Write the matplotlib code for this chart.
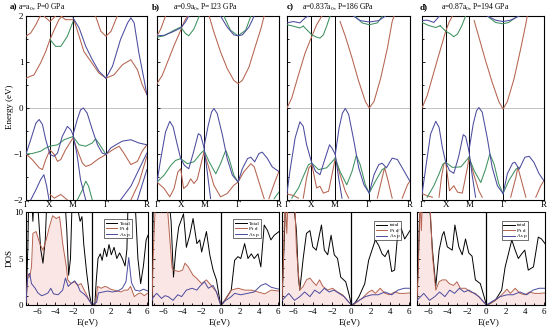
import matplotlib.pyplot as plt
import numpy as np

plt.rcParams['font.family'] = ['Liberation Serif', 'DejaVu Serif']
plt.rcParams['mathtext.fontset'] = 'stix'

BLUE = '#4b4b9e'
BROWN = '#b5634f'
GREEN = '#3e9160'

KPTS = [0, 0.5, 1.0, 1.707, 2.573]
KLAB = ['Γ', 'X', 'M', 'Γ', 'R']

LETTERS = ['a)', 'b)', 'c)', 'd)']
TITLES = [r'a=$\mathrm{a}_0$, P=0 GPa', r'a=0.9$\mathrm{a}_0$, P=123 GPa',
          r'a=0.837$\mathrm{a}_0$, P=186 GPa', r'a=0.87$\mathrm{a}_0$, P=194 GPa']
TOTAL_NAMES = ['Total', 'Total', 'total', 'total']

# ---- band structures: each band is a list of (k, E) points ----
bands_a_blue = [
    [(0, -1.0), (0.1, -0.69), (0.21, -0.33), (0.28, -0.25), (0.35, -0.36), (0.42, -0.69), (0.51, -1.01),
     (0.6, -1.05), (0.67, -0.98), (0.77, -0.62), (0.88, -0.40), (0.95, -0.47), (1.0, -0.58), (1.08, -0.98),
     (1.16, -1.56), (1.27, -2.0)],
    [(1.0, -0.58), (1.09, -0.25), (1.16, -0.04), (1.22, 0.0), (1.30, -0.11), (1.41, -0.47), (1.52, -0.80),
     (1.62, -0.98), (1.70, -1.01)],
    [(1.70, -1.01), (1.80, -0.87), (1.91, -0.80), (2.05, -0.72), (2.23, -0.69), (2.40, -0.76), (2.57, -0.80)],
    [(0.1, -2.0), (0.21, -1.78), (0.31, -1.56), (0.38, -1.45), (0.44, -1.70), (0.49, -2.0)],
    [(2.01, -2.0), (2.23, -1.70), (2.40, -1.34), (2.57, -0.98)],
    [(2.37, -2.0), (2.57, -1.34)],
    [(1.0, 1.96), (1.13, 1.74), (1.27, 1.34), (1.41, 1.05), (1.55, 0.80), (1.70, 0.65)],
    [(1.70, 0.65), (1.84, 0.91), (2.01, 1.49), (2.16, 1.85), (2.23, 1.96), (2.30, 1.85), (2.40, 1.20),
     (2.51, 0.62), (2.57, 0.29)],
]
bands_a_brown = [
    [(0, 0.65), (0.17, 0.72), (0.31, 0.98), (0.42, 1.23), (0.51, 1.49), (0.6, 1.70), (0.70, 1.92), (0.77, 2.0)],
    [(0, 1.56), (0.1, 1.63), (0.21, 1.81), (0.28, 1.96), (0.31, 2.0)],
    [(0.38, 2.0), (0.51, 1.88), (0.63, 2.0)],
    [(0.74, 2.0), (0.84, 1.92), (1.0, 1.92)],
    [(1.03, 1.88), (1.13, 1.56), (1.23, 1.23), (1.38, 1.01), (1.55, 0.76), (1.70, 0.65)],
    [(1.70, 0.65), (1.87, 0.72), (2.05, 0.94), (2.23, 1.05), (2.37, 0.83), (2.47, 0.51), (2.57, 0.29)],
    [(1.48, 2.0), (1.59, 1.67), (1.70, 1.56), (1.81, 1.67), (1.94, 2.0)],
    [(0, -1.0), (0.13, -1.12), (0.28, -1.30), (0.35, -1.34), (0.42, -1.12), (0.51, -0.91), (0.6, -1.01),
     (0.67, -1.16), (0.74, -1.12), (0.84, -0.91), (1.0, -0.65)],
    [(1.0, -0.65), (1.09, -0.91), (1.2, -1.20), (1.27, -1.27), (1.38, -1.23), (1.52, -1.12), (1.70, -1.01)],
    [(1.70, -1.01), (1.84, -0.91), (1.98, -0.83), (2.08, -0.98), (2.23, -1.23), (2.37, -1.16),
     (2.47, -0.94), (2.57, -0.80)],
    [(0.51, -1.88), (0.6, -1.96), (0.74, -1.88), (0.88, -2.0)],
    [(2.23, -2.0), (2.40, -1.63), (2.57, -1.05)],
]
bands_a_green = [
    [(0.51, 1.49), (0.63, 1.34), (0.74, 1.34), (0.88, 1.56), (1.0, 1.88)],
    [(0, -1.0), (0.13, -0.99), (0.31, -0.94), (0.42, -0.87), (0.51, -0.83), (0.67, -0.80), (0.81, -0.69),
     (1.0, -0.62)],
    [(1.0, -0.62), (1.13, -0.80), (1.27, -0.83), (1.41, -0.76), (1.48, -0.67), (1.57, -0.80), (1.70, -1.01)],
    [(1.09, -2.0), (1.2, -1.78), (1.27, -1.59), (1.33, -1.70), (1.41, -2.0)],
]

bands_b_blue = [
    [(0, 1.57), (0.15, 1.58), (0.32, 1.65), (0.5, 1.74), (0.6, 1.87), (0.67, 2.0)],
    [(1.34, 2.0), (1.48, 1.76), (1.62, 1.59), (1.71, 1.57), (1.80, 1.59), (1.94, 1.76), (2.05, 2.0)],
    [(0, -1.61), (0.08, -1.10), (0.18, -0.52), (0.27, -0.29), (0.34, -0.41), (0.43, -0.81), (0.5, -1.10),
     (0.58, -1.25), (0.67, -1.32), (0.77, -0.96), (0.87, -0.56), (0.92, -0.59), (0.99, -0.85), (1.06, -1.39),
     (1.13, -1.97)],
    [(0.99, -0.85), (1.08, -0.38), (1.15, -0.09), (1.20, -0.01), (1.27, -0.12), (1.38, -0.59), (1.48, -1.10),
     (1.59, -1.46), (1.71, -1.61)],
    [(1.71, -1.61), (1.80, -1.32), (1.91, -1.10), (1.98, -1.07), (2.06, -1.17), (2.15, -0.99), (2.22, -0.96),
     (2.33, -1.10), (2.43, -1.28), (2.57, -1.38)],
]
bands_b_brown = [
    [(0, 0.53), (0.11, 0.71), (0.25, 1.07), (0.36, 1.36), (0.5, 1.69), (0.57, 1.87), (0.64, 2.0)],
    [(0, 1.57), (0.08, 1.72), (0.18, 2.0)],
    [(1.10, 2.0), (1.20, 1.65), (1.34, 1.22), (1.48, 0.86), (1.62, 0.60), (1.71, 0.53), (1.80, 0.60),
     (1.94, 0.89), (2.08, 1.36), (2.19, 1.72), (2.26, 2.0)],
    [(0, -1.61), (0.15, -1.75), (0.27, -1.93), (0.36, -1.75), (0.44, -1.39), (0.5, -1.32), (0.56, -1.75),
     (0.64, -1.68), (0.71, -1.54), (0.78, -1.64), (0.85, -1.55), (0.92, -1.25), (0.99, -0.96)],
    [(0.99, -0.96), (1.10, -1.32), (1.20, -1.68), (1.34, -1.93), (1.48, -1.86), (1.62, -1.68), (1.71, -1.61)],
    [(1.71, -1.61), (1.83, -1.39), (1.98, -1.21), (2.05, -1.28), (2.15, -1.61), (2.26, -1.97)],
    [(2.36, -1.97), (2.47, -1.65), (2.57, -1.38)],
]
bands_b_green = [
    [(0, 1.54), (0.15, 1.57), (0.36, 1.69), (0.5, 1.76), (0.6, 1.62), (0.67, 1.57), (0.78, 1.72), (0.89, 2.0)],
    [(1.41, 2.0), (1.55, 1.69), (1.71, 1.57), (1.87, 1.69), (1.98, 2.0)],
    [(0, -1.61), (0.15, -1.46), (0.29, -1.25), (0.39, -1.14), (0.5, -1.10), (0.64, -1.21), (0.78, -1.17),
     (0.92, -0.99), (0.99, -0.92)],
    [(0.99, -0.92), (1.10, -1.17), (1.24, -1.43), (1.34, -1.21), (1.45, -0.92), (1.52, -1.10), (1.62, -1.46),
     (1.71, -1.61)],
    [(2.47, -1.97), (2.57, -1.83)],
]

bands_c_blue = [
    [(0, 1.85), (0.13, 1.88), (0.27, 1.85), (0.38, 1.96), (0.45, 2.0)],
    [(1.39, 2.0), (1.53, 1.90), (1.72, 1.87), (1.92, 1.90), (2.06, 2.0)],
    [(0, -1.85), (0.06, -1.38), (0.17, -0.65), (0.27, -0.30), (0.34, -0.40), (0.41, -0.80), (0.52, -1.20),
     (0.60, -1.38), (0.69, -1.45), (0.79, -1.12), (0.89, -0.80), (0.94, -0.87), (1.01, -1.01), (1.08, -1.52),
     (1.15, -1.96)],
    [(1.01, -1.01), (1.09, -0.43), (1.16, -0.11), (1.22, -0.01), (1.29, -0.14), (1.40, -0.72), (1.50, -1.30),
     (1.61, -1.67), (1.72, -1.85)],
    [(1.72, -1.85), (1.82, -1.45), (1.92, -1.23), (1.99, -1.20), (2.08, -1.30), (2.20, -1.09), (2.31, -1.12),
     (2.41, -1.30), (2.57, -1.59)],
]
bands_c_brown = [
    [(0, 0.0), (0.10, 0.22), (0.24, 0.72), (0.38, 1.20), (0.52, 1.56), (0.62, 1.81), (0.73, 2.0)],
    [(1.11, 1.88), (1.22, 1.56), (1.36, 1.09), (1.50, 0.58), (1.64, 0.14), (1.72, 0.0), (1.82, 0.14),
     (1.96, 0.65), (2.10, 1.30), (2.20, 1.88), (2.24, 2.0)],
    [(0.34, -1.96), (0.41, -1.52), (0.46, -1.30), (0.52, -1.23)],
    [(0.52, -1.23), (0.62, -1.74), (0.69, -1.70), (0.76, -1.85), (0.87, -1.81), (0.97, -1.30), (1.01, -1.09)],
    [(1.01, -1.09), (1.11, -1.45), (1.22, -1.81), (1.29, -1.96)],
    [(1.89, -1.96), (1.99, -1.52), (2.04, -1.30), (2.10, -1.52), (2.20, -1.96)],
    [(2.41, -1.96), (2.52, -1.67), (2.57, -1.59)],
    [(0, -1.87), (0.13, -1.90), (0.24, -1.96)],
]
bands_c_green = [
    [(0.34, 1.78), (0.52, 1.59), (0.62, 1.54), (0.69, 1.52), (0.76, 1.59), (0.83, 1.78), (0.90, 2.0)],
    [(0, 1.81), (0.13, 1.78), (0.27, 1.74), (0.34, 1.78)],
    [(1.43, 1.99), (1.57, 1.85), (1.72, 1.81), (1.89, 1.85), (1.99, 1.99)],
    [(0.10, -1.96), (0.24, -1.74), (0.34, -1.49), (0.45, -1.23), (0.52, -1.20), (0.66, -1.34), (0.83, -1.30),
     (1.01, -1.09)],
    [(1.01, -1.09), (1.11, -1.38), (1.25, -1.67), (1.36, -1.38), (1.45, -1.03), (1.53, -1.23), (1.64, -1.67),
     (1.72, -1.85)],
    [(1.72, -1.85), (1.85, -1.59), (1.99, -1.34), (2.06, -1.30)],
]

bands_d_blue = [
    [(0, 1.90), (0.11, 1.91), (0.25, 1.86), (0.36, 1.99)],
    [(1.38, 2.0), (1.55, 1.91), (1.71, 1.88), (1.87, 1.91), (2.05, 2.0)],
    [(0, -1.88), (0.08, -1.29), (0.18, -0.57), (0.29, -0.29), (0.36, -0.42), (0.43, -0.86), (0.5, -1.18),
     (0.58, -1.36), (0.67, -1.42), (0.77, -1.07), (0.87, -0.58), (0.92, -0.62), (0.99, -0.93), (1.06, -1.47),
     (1.13, -1.94)],
    [(0.99, -0.93), (1.08, -0.35), (1.15, -0.06), (1.20, 0.01), (1.27, -0.09), (1.38, -0.67), (1.48, -1.29),
     (1.59, -1.69), (1.71, -1.86)],
    [(1.71, -1.86), (1.80, -1.43), (1.91, -1.20), (1.96, -1.18), (2.05, -1.33), (2.17, -1.07), (2.26, -1.05),
     (2.36, -1.18), (2.47, -1.43), (2.57, -1.58)],
]
bands_d_brown = [
    [(0, 0.0), (0.11, 0.27), (0.25, 0.78), (0.39, 1.28), (0.5, 1.67), (0.57, 1.86), (0.64, 2.0)],
    [(1.10, 1.90), (1.20, 1.54), (1.34, 1.03), (1.48, 0.56), (1.62, 0.14), (1.71, -0.02), (1.80, 0.14),
     (1.94, 0.63), (2.08, 1.28), (2.19, 1.83), (2.22, 2.0)],
    [(0.36, -1.94), (0.41, -1.51), (0.46, -1.22), (0.5, -1.18)],
    [(0.5, -1.18), (0.58, -1.80), (0.67, -1.69), (0.75, -1.83), (0.85, -1.85), (0.96, -1.29), (0.99, -1.07)],
    [(0.99, -1.07), (1.10, -1.47), (1.20, -1.80), (1.27, -1.94)],
    [(1.87, -1.94), (1.98, -1.51), (2.02, -1.29), (2.08, -1.51), (2.19, -1.94)],
    [(2.40, -1.94), (2.50, -1.70), (2.57, -1.58)],
    [(0, -1.86), (0.11, -1.91), (0.22, -1.94)],
]
bands_d_green = [
    [(0.38, 1.79), (0.5, 1.67), (0.60, 1.61), (0.67, 1.55), (0.75, 1.61), (0.84, 1.79), (0.92, 2.0)],
    [(0, 1.86), (0.15, 1.79), (0.29, 1.75), (0.39, 1.79)],
    [(1.41, 1.97), (1.55, 1.86), (1.71, 1.83), (1.83, 1.86), (1.98, 1.97)],
    [(0.11, -1.94), (0.25, -1.69), (0.36, -1.43), (0.44, -1.22), (0.5, -1.18), (0.64, -1.29), (0.82, -1.28),
     (0.99, -1.07)],
    [(0.99, -1.07), (1.10, -1.36), (1.24, -1.62), (1.34, -1.33), (1.43, -1.0), (1.52, -1.22), (1.62, -1.65),
     (1.71, -1.86)],
    [(1.71, -1.86), (1.83, -1.58), (1.98, -1.33), (2.05, -1.29)],
]

# ---- density of states: (E, DOS) points ----
dos_a_total = [(-7.2, 0.3), (-7.0, 6), (-6.9, 12), (-6.6, 12), (-6.45, 9.0), (-6.3, 12), (-6.0, 12), (-5.8, 9),
               (-5.6, 6), (-5.35, 4.5), (-5.1, 7), (-4.9, 12), (-4.5, 12), (-4.0, 12), (-3.5, 12), (-3.0, 12),
               (-2.75, 8), (-2.55, 3.2), (-2.35, 5), (-2.15, 12), (-1.9, 12), (-1.6, 10.5), (-1.3, 9),
               (-1.1, 9.5), (-0.9, 6.5), (-0.6, 3.6), (-0.3, 1.2), (-0.05, 0), (0.3, 0), (0.45, 2.5),
               (0.65, 5.0), (0.9, 5.5), (1.1, 4.8), (1.35, 6.1), (1.6, 5.2), (1.85, 6.5), (2.1, 5.4),
               (2.4, 6.2), (2.7, 5.0), (3.0, 5.6), (3.3, 5.0), (3.6, 4.2), (3.8, 6), (3.95, 12), (4.3, 12),
               (4.7, 11), (5.0, 5), (5.3, 2.3), (5.6, 4.2), (5.9, 7), (6.1, 7.5)]
dos_a_ptd = [(-7.2, 0.3), (-7.0, 3.4), (-6.8, 3.0), (-6.6, 4.1), (-6.45, 7.7), (-6.1, 7.9), (-5.7, 6.6),
             (-5.35, 5.9), (-5.0, 7.0), (-4.65, 8.4), (-4.3, 9.6), (-3.9, 9.3), (-3.55, 9.5), (-3.4, 8.4),
             (-3.2, 6.6), (-2.8, 4.1), (-2.65, 2.7), (-2.3, 2.3), (-1.9, 2.5), (-1.55, 2.1), (-1.2, 2.3),
             (-0.85, 1.6), (-0.3, 0.5), (0, 0), (0.4, 0.2), (0.6, 2.0), (1.0, 1.8), (1.4, 2.0), (1.7, 1.9),
             (2.0, 1.7), (2.4, 1.6), (2.8, 1.5), (3.15, 1.4), (3.5, 1.6), (3.9, 1.6), (4.2, 2.0), (4.6, 0.9),
             (5.0, 1.2), (5.3, 1.3), (5.7, 1.0), (6.1, 1.3)]
dos_a_asp = [(-7.2, 0.3), (-7.0, 3.1), (-6.8, 3.4), (-6.6, 2.3), (-6.2, 1.8), (-5.9, 1.3), (-5.5, 1.0),
             (-5.2, 1.1), (-4.8, 1.3), (-4.5, 1.8), (-4.2, 1.2), (-3.7, 1.1), (-3.2, 1.6), (-2.9, 2.9),
             (-2.6, 2.0), (-2.3, 2.3), (-1.9, 2.6), (-1.6, 2.2), (-1.3, 1.5), (-0.9, 1.2), (-0.6, 0.9),
             (-0.1, 0.2), (0, 0), (0.5, 0.3), (0.7, 1.3), (1.2, 1.4), (1.7, 1.5), (2.2, 1.4), (2.8, 1.5),
             (3.3, 1.8), (3.7, 2.5), (4.0, 5.1), (4.3, 2.4), (4.7, 1.6), (5.2, 1.5), (5.6, 1.7), (6.1, 1.5)]

dos_b_total = [(-7.2, 0.5), (-7.05, 12), (-6.5, 12), (-6.0, 12), (-5.5, 12), (-5.2, 9), (-4.95, 3.0),
               (-4.7, 6), (-4.4, 8.4), (-3.9, 9.8), (-3.6, 6.2), (-3.25, 7.5), (-2.9, 9.3), (-2.5, 6.6),
               (-2.2, 7.0), (-2.0, 5.7), (-1.5, 7.9), (-1.15, 5.4), (-0.8, 3.75), (-0.45, 2.7), (-0.1, 0.5),
               (0, 0), (0.25, 0.2), (0.6, 0.8), (1.1, 1.6), (1.45, 4.8), (1.8, 5.2), (2.1, 5.0), (2.5, 6.6),
               (2.85, 5.0), (3.2, 5.5), (3.5, 5.0), (3.9, 5.5), (4.2, 4.1), (4.55, 8.6), (4.9, 8.0),
               (5.25, 7.0), (5.6, 7.5), (6.1, 7.9)]
dos_b_ptd = [(-7.2, 0.5), (-7.05, 6), (-6.8, 12), (-6.5, 12), (-6.2, 10), (-6.0, 12), (-5.7, 12), (-5.4, 8),
             (-5.1, 4), (-4.95, 3.75), (-4.4, 3.6), (-4.0, 3.75), (-3.75, 4.5), (-3.4, 4.1), (-2.9, 3.2),
             (-2.55, 2.9), (-2.0, 2.3), (-1.5, 2.7), (-1.0, 2.1), (-0.45, 1.4), (0, 0), (0.4, 0.5), (0.8, 1.1),
             (1.1, 1.6), (1.8, 1.8), (2.5, 1.6), (3.2, 1.6), (3.9, 1.4), (4.6, 1.2), (5.3, 1.6), (6.1, 1.5)]
dos_b_asp = [(-7.2, 0.5), (-7.05, 0.9), (-6.7, 1.25), (-6.2, 0.7), (-5.85, 1.0), (-5.5, 0.9), (-5.0, 0.5),
             (-4.5, 1.1), (-4.1, 0.9), (-3.6, 1.6), (-3.0, 1.8), (-2.5, 1.6), (-2.2, 2.0), (-1.7, 2.5),
             (-1.3, 1.8), (-0.8, 2.1), (-0.45, 1.4), (0, 0), (0.4, 0.4), (1.1, 0.9), (1.45, 1.25), (2.1, 1.1),
             (2.8, 1.25), (3.5, 1.4), (4.2, 2.1), (4.7, 2.3), (5.3, 1.9), (6.1, 1.7)]

dos_c_total = [(-7.2, 0.5), (-7.0, 6), (-6.8, 12), (-6.2, 12), (-5.9, 10), (-5.7, 8), (-5.5, 3), (-5.35, 1.6),
               (-5.0, 5), (-4.66, 7.7), (-4.3, 8.0), (-4.0, 6.25), (-3.64, 5.9), (-3.1, 8.6), (-2.8, 5.9),
               (-2.45, 5.4), (-2.1, 7.5), (-1.77, 5.4), (-1.43, 5.0), (-1.1, 3.0), (-0.58, 2.5), (-0.2, 1.0),
               (0, 0), (0.3, 0.1), (0.8, 0.9), (1.4, 2.3), (1.8, 4.8), (2.15, 5.9), (2.5, 7.0), (2.85, 6.4),
               (3.2, 5.5), (3.5, 5.2), (3.85, 5.9), (4.2, 3.6), (4.5, 3.75), (4.85, 8.0), (5.2, 8.2),
               (5.55, 7.1), (6.1, 8.0)]
dos_c_ptd = [(-7.2, 0.5), (-7.05, 4.8), (-6.9, 12), (-6.7, 7.7), (-6.55, 12), (-6.2, 12), (-5.9, 12),
             (-5.7, 6.0), (-5.35, 1.6), (-5.0, 2.0), (-4.66, 2.7), (-4.3, 2.9), (-4.0, 2.5), (-3.64, 2.1),
             (-3.3, 2.7), (-2.95, 2.0), (-2.45, 1.6), (-1.95, 1.8), (-1.43, 1.4), (-0.9, 1.1), (-0.4, 0.5),
             (0, 0), (0.45, 0.2), (1.1, 0.7), (1.8, 1.4), (2.15, 1.6), (2.5, 1.25), (3.0, 1.8), (3.5, 1.25),
             (4.0, 1.1), (4.5, 1.4), (5.0, 1.25), (5.5, 1.25), (6.1, 1.3)]
dos_c_asp = [(-7.2, 0.5), (-7.0, 0.7), (-6.5, 1.25), (-5.9, 0.5), (-5.35, 0.9), (-4.85, 1.4), (-4.3, 0.9),
             (-3.8, 1.6), (-3.3, 1.25), (-2.8, 1.8), (-2.3, 1.4), (-1.8, 1.6), (-1.27, 1.25), (-0.75, 0.9),
             (0, 0), (0.8, 0.5), (1.45, 0.9), (2.15, 1.1), (2.8, 1.1), (3.5, 1.4), (4.2, 1.1), (4.85, 1.6),
             (5.5, 1.8), (6.1, 1.8)]

dos_d_total = [(-7.2, 0.5), (-7.0, 7), (-6.85, 12), (-6.2, 12), (-5.9, 11), (-5.6, 6.0), (-5.25, 2.0),
               (-4.9, 5.9), (-4.57, 7.5), (-4.4, 7.9), (-4.05, 6.25), (-3.54, 5.9), (-3.26, 8.6), (-2.85, 6.25),
               (-2.5, 5.4), (-2.16, 7.1), (-1.82, 5.6), (-1.48, 5.25), (-1.13, 2.7), (-0.62, 2.3), (-0.2, 0.8),
               (0, 0), (0.3, 0.1), (0.93, 0.5), (1.6, 1.6), (1.96, 4.1), (2.3, 5.5), (2.65, 7.0), (3.0, 5.9),
               (3.33, 5.0), (3.68, 5.5), (4.0, 5.9), (4.36, 3.75), (4.9, 4.1), (5.4, 7.3), (5.74, 7.1),
               (6.1, 6.6)]
dos_d_ptd = [(-7.2, 0.5), (-7.05, 4.1), (-6.9, 12), (-6.75, 8), (-6.6, 12), (-6.2, 12), (-5.9, 12),
             (-5.6, 5.4), (-5.25, 1.6), (-4.9, 2.5), (-4.57, 2.7), (-4.2, 2.7), (-3.85, 2.3), (-3.4, 2.1),
             (-3.05, 2.5), (-2.7, 1.8), (-2.16, 1.8), (-1.65, 1.4), (-1.13, 1.25), (-0.62, 0.7), (0, 0),
             (0.45, 0.2), (1.1, 0.6), (1.8, 1.3), (2.15, 1.7), (2.5, 1.25), (3.0, 1.8), (3.5, 1.25),
             (4.0, 1.1), (4.5, 1.4), (5.0, 1.25), (5.5, 1.25), (6.1, 1.3)]
dos_d_asp = [(-7.2, 0.5), (-7.0, 0.7), (-6.5, 1.25), (-5.9, 0.5), (-5.35, 0.9), (-4.85, 1.4), (-4.3, 0.9),
             (-3.8, 1.6), (-3.3, 1.25), (-2.8, 1.8), (-2.3, 1.4), (-1.8, 1.6), (-1.27, 1.25), (-0.75, 0.9),
             (0, 0), (0.8, 0.5), (1.45, 0.9), (2.15, 1.1), (2.8, 1.1), (3.5, 1.4), (4.2, 1.1), (4.85, 1.6),
             (5.5, 1.8), (6.1, 1.8)]

BANDS = [
    [(BROWN, bands_a_brown), (GREEN, bands_a_green), (BLUE, bands_a_blue)],
    [(BROWN, bands_b_brown), (GREEN, bands_b_green), (BLUE, bands_b_blue)],
    [(BROWN, bands_c_brown), (GREEN, bands_c_green), (BLUE, bands_c_blue)],
    [(BROWN, bands_d_brown), (GREEN, bands_d_green), (BLUE, bands_d_blue)],
]
DOS = [
    (dos_a_total, dos_a_ptd, dos_a_asp),
    (dos_b_total, dos_b_ptd, dos_b_asp),
    (dos_c_total, dos_c_ptd, dos_c_asp),
    (dos_d_total, dos_d_ptd, dos_d_asp),
]

W, H = 550, 332
# pixel boxes (left, top, right, bottom)
band_boxes = [(26, 16, 147, 200), (157, 16, 279, 200), (287, 16, 410, 200), (422, 16, 544, 200)]
dos_boxes = [(26, 212, 148, 305), (152, 212, 279, 305), (282, 212, 410, 305), (417, 212, 545, 305)]
legend_at = [(0.62, 0.95), (0.62, 0.95), (0.70, 0.93), (0.64, 0.93)]
letter_x = [10, 152, 287, 420]
title_x = [42, 205, 338, 475]
eev_x = [88, 220, 350, 489]


def rect(box):
    l, t, r, b = box
    return [l / W, 1 - b / H, (r - l) / W, (b - t) / H]


fig = plt.figure(figsize=(5.5, 3.32), dpi=100)

for i in range(4):
    ax = fig.add_axes(rect(band_boxes[i]))
    for color, segs in BANDS[i]:
        for seg in segs:
            k, e = zip(*seg)
            ax.plot(k, e, color=color, lw=0.75, zorder=3)
    ax.axhline(0, color='#b8b8b8', lw=0.6, zorder=1)
    for kk in KPTS[1:-1]:
        ax.axvline(kk, color='black', lw=0.7, zorder=2)
    ax.set_xlim(0, KPTS[-1])
    ax.set_ylim(-2, 2)
    ax.set_xticks(KPTS)
    ax.set_xticklabels(KLAB)
    ax.set_yticks([-2, -1, 0, 1, 2])
    ax.set_yticks(np.arange(-2, 2.01, 0.5), minor=True)
    ax.tick_params(axis='y', which='both', direction='in', length=2.5, width=0.6, labelsize=6.5, pad=2)
    ax.tick_params(axis='y', which='minor', length=1.5)
    ax.tick_params(axis='x', length=0, labelsize=6.5, pad=1)
    if i > 0:
        ax.set_yticklabels([])
    for s in ax.spines.values():
        s.set_linewidth(0.8)

    dx = fig.add_axes(rect(dos_boxes[i]))
    total, ptd, asp = DOS[i]
    e, v = zip(*ptd)
    dx.fill_between(e, v, color='#fbe6e6', lw=0, zorder=1)
    e, v = zip(*total)
    dx.plot(e, v, color='black', lw=0.7, label=TOTAL_NAMES[i], zorder=3)
    e, v = zip(*ptd)
    dx.plot(e, v, color=BROWN, lw=0.7, label='Pt d', zorder=4)
    e, v = zip(*asp)
    dx.plot(e, v, color=BLUE, lw=0.7, label='As p', zorder=4)
    dx.axvline(0, color='black', lw=0.9, zorder=5)
    dx.set_xlim(-7.2, 6.1)
    dx.set_ylim(0, 10)
    dx.set_xticks([-6, -4, -2, 0, 2, 4, 6])
    dx.set_xticks(np.arange(-7, 6.1, 1), minor=True)
    dx.set_yticks([0, 5, 10])
    dx.set_yticks(np.arange(0, 10.1, 1), minor=True)
    dx.tick_params(which='both', direction='in', length=2.5, width=0.6, labelsize=6.5, pad=2)
    dx.tick_params(which='minor', length=1.5)
    if i > 0:
        dx.set_yticklabels([])
    for s in dx.spines.values():
        s.set_linewidth(0.8)
    leg = dx.legend(loc='upper left', bbox_to_anchor=legend_at[i], fontsize=3.8, handlelength=2.2,
                    handletextpad=0.4, borderpad=0.3, labelspacing=0.15, frameon=True, fancybox=False)
    leg.get_frame().set_edgecolor('black')
    leg.get_frame().set_linewidth(0.5)

    fig.text(letter_x[i] / W, 1 - 7 / H, LETTERS[i], fontsize=6.5, fontweight='bold', ha='left', va='center')
    fig.text(title_x[i] / W, 1 - 7 / H, TITLES[i], fontsize=5.5, ha='center', va='center')
    fig.text(eev_x[i] / W, 1 - 322 / H, 'E(eV)', fontsize=6.5, ha='center', va='center')

fig.text(10 / W, 1 - 107 / H, 'Energy (eV)', rotation=90, fontsize=6.5, ha='center', va='center')
fig.text(10 / W, 1 - 258 / H, 'DOS', rotation=90, fontsize=6.5, ha='center', va='center')

fig.savefig('out.png', dpi=100)
